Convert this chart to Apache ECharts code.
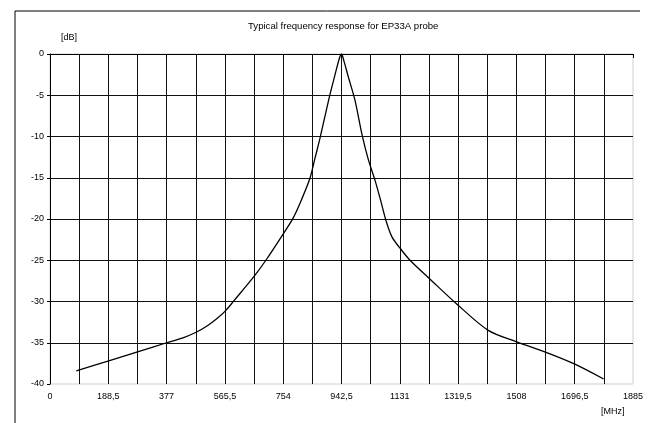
<!DOCTYPE html>
<html>
<head>
<meta charset="utf-8">
<script src="https://cdn.jsdelivr.net/npm/echarts@6/dist/echarts.min.js"></script>
<style>
  html, body { margin: 0; padding: 0; background: #fff; }
  #chart { width: 649px; height: 423px; }
</style>
</head>
<body>
<div id="chart"></div>
<script>
// Measured response of the EP33A probe: frequency [MHz] vs. level [dB]
var freqMHz = [85, 190, 283, 377, 430, 474, 510, 539, 568, 595, 661, 698, 749, 786, 815, 841, 857, 873, 902, 921, 935, 942.5,
               950, 964, 986, 1009, 1030, 1050, 1068, 1088, 1106, 1131, 1164, 1229, 1315, 1417, 1509, 1606, 1697, 1790];
var levelDb = [-38.4, -37.2, -36.1, -35.0, -34.4, -33.7, -32.9, -32.1, -31.1, -29.9, -26.9, -25.0, -22.1, -19.9, -17.5, -15.0, -12.6, -10.2, -5.4, -2.6, -0.6, 0,
               -0.8, -2.7, -5.6, -9.8, -12.9, -15.2, -17.6, -20.4, -22.2, -23.5, -25.0, -27.3, -30.3, -33.5, -34.9, -36.2, -37.6, -39.4];

var xTickLabels = ['0', '188,5', '377', '565,5', '754', '942,5', '1131', '1319,5', '1508', '1696,5', '1885'];
var yTickLabels = ['-40', '-35', '-30', '-25', '-20', '-15', '-10', '-5', '0'];

var xStep = 188.5, xMax = 1885;
var yStep = 5, yMin = -40, yMax = 0;

var points = freqMHz.map(function (f, i) { return [f, levelDb[i]]; });

var font = '"Liberation Sans", Arial, sans-serif';
var chart = echarts.init(document.getElementById('chart'), null, { renderer: 'canvas' });

chart.setOption({
  animation: false,
  backgroundColor: '#ffffff',
  title: {
    text: 'Typical frequency response for EP33A probe',
    left: 243,
    top: 16,
    textStyle: { fontFamily: font, fontSize: 9.6, fontWeight: 'normal', color: '#000' }
  },
  grid: {
    left: 50, top: 54, right: 16, bottom: 39,
    show: true, borderColor: '#cfcfcf', borderWidth: 1
  },
  xAxis: {
    type: 'value',
    min: 0, max: xMax, interval: xStep,
    axisLine: { show: true, lineStyle: { color: '#000', width: 1 } },
    axisTick: { show: true, inside: false, length: 4, lineStyle: { color: '#000' } },
    axisLabel: {
      margin: 8, fontFamily: font, fontSize: 9, color: '#000',
      showMaxLabel: true,
      formatter: function (v) { return xTickLabels[Math.round(v / xStep)]; }
    },
    splitLine: { show: true, showMinLine: false, showMaxLine: false, lineStyle: { color: '#111', width: 1 } },
    minorTick: { show: false, splitNumber: 2 },
    minorSplitLine: { show: true, lineStyle: { color: '#111', width: 1 } }
  },
  yAxis: {
    type: 'value',
    min: yMin, max: yMax, interval: yStep,
    axisLine: { show: true, lineStyle: { color: '#000', width: 1 } },
    axisTick: { show: true, inside: false, length: 3, lineStyle: { color: '#000' } },
    axisLabel: {
      margin: 6, fontFamily: font, fontSize: 9, color: '#000',
      formatter: function (v) { return yTickLabels[Math.round((v - yMin) / yStep)]; }
    },
    splitLine: { show: true, showMinLine: false, showMaxLine: false, lineStyle: { color: '#111', width: 1 } }
  },
  graphic: [
    { type: 'line', shape: { x1: 15, y1: 11, x2: 640, y2: 11 }, style: { stroke: '#000', lineWidth: 1 } },
    { type: 'line', shape: { x1: 15, y1: 11, x2: 15, y2: 423 }, style: { stroke: '#000', lineWidth: 1 } },
    { type: 'text', left: 61, top: 33, style: { text: '[dB]', font: '9px ' + font, fill: '#000' } },
    { type: 'text', left: 601, top: 407, style: { text: '[MHz]', font: '9px ' + font, fill: '#000' } }
  ],
  series: [{
    type: 'line',
    data: points,
    showSymbol: false,
    smooth: 0.3,
    lineStyle: { color: '#000', width: 1.3 }
  }]
});
</script>
</body>
</html>
